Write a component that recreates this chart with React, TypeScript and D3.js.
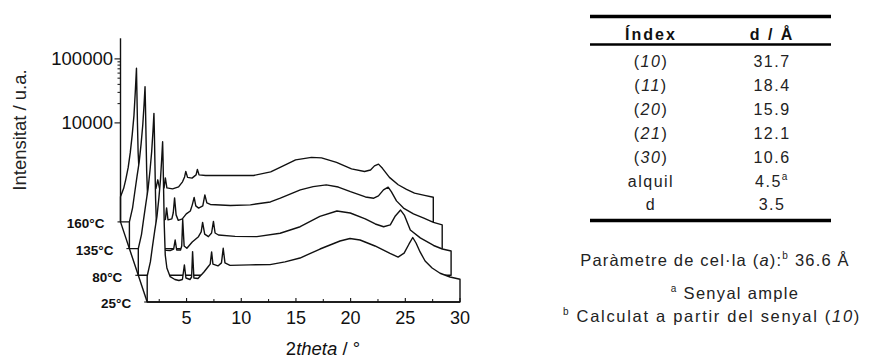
import React from 'react';
import * as d3 from 'd3';

// ---------- data ----------
const temperatureLabels = ['25°C', '80°C', '135°C', '160°C'];

// [2theta (deg), intensity (a.u.)]
const series25C: [number, number][] = [
  [1.4, 723], [1.69, 1200], [1.88, 2080], [2.1, 3790], [2.29, 6110], [2.47, 12000], [2.61, 22900],
  [2.72, 47000], [2.81, 90800], [2.85, 47000], [2.9, 16000], [2.96, 4530], [3.05, 1540], [3.2, 964],
  [3.5, 705], [3.93, 638], [4.3, 615], [4.62, 638], [4.8, 1080], [4.94, 673], [5.31, 638], [5.46, 698],
  [5.55, 1740], [5.67, 673], [6.04, 661], [6.59, 836], [6.95, 1000], [7.16, 1110], [7.29, 1720],
  [7.41, 1110], [7.87, 1040], [8.19, 1160], [8.35, 1960], [8.51, 1160], [8.97, 1060], [10.8, 1080],
  [12.63, 1090], [14.0, 1200], [15.37, 1380], [17.2, 1910], [19.03, 2550], [19.94, 2790], [20.86, 2640],
  [22.23, 2130], [23.6, 1630], [24.34, 1430], [24.89, 1650], [25.34, 2290], [25.68, 2890], [25.98, 2370],
  [26.35, 1720], [26.81, 1240], [27.45, 964], [28.18, 798], [29.09, 698], [30.0, 643],
];

const series80C: [number, number][] = [
  [1.4, 740], [1.69, 1230], [1.88, 2100], [2.1, 3850], [2.29, 6300], [2.47, 12300], [2.62, 24000],
  [2.74, 50000], [2.83, 96300], [2.87, 48000], [2.92, 16000], [2.98, 4500], [3.07, 1550], [3.22, 980],
  [3.5, 720], [3.94, 700], [4.31, 692], [4.63, 731], [4.77, 1010], [4.91, 705], [5.26, 705], [5.37, 815],
  [5.46, 2110], [5.59, 815], [5.84, 750], [6.33, 940], [6.9, 1140], [7.15, 1350], [7.28, 1900],
  [7.47, 1250], [7.81, 1140], [8.1, 1300], [8.27, 1970], [8.42, 1300], [8.73, 1210], [10.25, 1150],
  [12.24, 1140], [14.37, 1290], [16.2, 1630], [18.0, 2360], [19.56, 2870], [20.78, 2670], [22.15, 2160],
  [23.07, 1800], [23.83, 1630], [24.44, 1740], [24.9, 2400], [25.38, 2970], [25.72, 2480], [26.27, 1450],
  [27.18, 1090], [28.4, 830], [29.2, 731], [30.0, 680],
];

const series135C: [number, number][] = [
  [1.4, 740], [1.69, 1230], [1.88, 2100], [2.1, 3850], [2.29, 6300], [2.47, 12300], [2.62, 24000],
  [2.74, 50000], [2.83, 96300], [2.87, 48000], [2.92, 16000], [2.98, 4600], [3.07, 1700], [3.22, 1050],
  [3.5, 830], [3.91, 798], [4.41, 769], [4.69, 811], [4.8, 1230], [4.93, 798], [5.28, 826], [5.41, 1030],
  [5.53, 1760], [5.67, 955], [5.87, 783], [6.24, 826], [6.6, 988], [6.97, 1100], [7.15, 1370], [7.32, 1790],
  [7.47, 1320], [7.73, 1220], [8.11, 1320], [8.3, 1960], [8.48, 1470], [8.8, 1390], [10.63, 1340],
  [12.46, 1370], [14.29, 1520], [15.2, 1740], [17.03, 2350], [18.2, 2640], [19.4, 2810], [20.5, 2600],
  [21.61, 2200], [22.98, 1820], [23.74, 1740], [24.17, 1890], [24.63, 2350], [25.06, 2590], [25.36, 2180],
  [25.82, 1580], [26.46, 1220], [27.37, 988], [28.32, 848], [29.2, 729], [30.0, 666],
];

const series160C: [number, number][] = [
  [1.4, 700], [1.69, 950], [1.88, 1300], [2.1, 2000], [2.29, 3400], [2.47, 6500], [2.63, 13000],
  [2.75, 30000], [2.86, 71600], [2.9, 30000], [2.95, 10000], [3.01, 3500], [3.1, 1700], [3.25, 1150],
  [3.55, 1000], [4.14, 964], [4.64, 948], [4.81, 1290], [4.97, 948], [5.38, 964], [5.5, 1380], [5.64, 964],
  [6.16, 931], [6.71, 1000], [7.07, 1200], [7.26, 1430], [7.37, 1750], [7.53, 1410], [7.94, 1370],
  [8.31, 1540], [8.43, 1880], [8.58, 1540], [9.18, 1510], [11.46, 1510], [13.57, 1510], [15.13, 1720],
  [16.04, 2030], [17.41, 2640], [18.86, 2890], [19.78, 2840], [21.15, 2410], [22.52, 1910], [23.71, 1740],
  [24.26, 1840], [24.62, 2130], [24.99, 2270], [25.35, 1950], [25.99, 1410], [26.79, 1080], [27.55, 914],
  [28.28, 798], [29.2, 736], [30.0, 690],
];

const xMajorTicks = [5, 10, 15, 20, 25, 30];
const xMinorTicks = [2.5, 7.5, 12.5, 17.5, 22.5, 27.5];
const yMajorTicks = [10000, 100000];
const yMinorTicks = [20000, 30000, 40000, 50000, 60000, 70000, 80000, 90000];
const yAxisMax = 210000;
const thetaStart = 1.4;
const thetaEnd = 30;

const tableIndex = ['(10)', '(11)', '(20)', '(21)', '(30)', 'alquil', 'd'];
const tableD = ['31.7', '18.4', '15.9', '12.1', '10.6', '4.5', '3.5'];
const tableDNote = ['', '', '', '', '', 'a', ''];

const FONT = "'Liberation Sans', Arial, Helvetica, sans-serif";

function renderIndex(s: string) {
  const m = s.match(/^\((\d+)\)$/);
  if (m) {
    return (
      <>
        (<tspan fontStyle="italic">{m[1]}</tspan>)
      </>
    );
  }
  return s;
}

export default function App() {
  const x = d3.scaleLinear().domain([thetaStart, thetaEnd]).range([147.2, 460]);
  const y = d3.scaleLog().domain([1e4, 1e5]).range([203, 139]);
  const baseY = 302;
  const dx = -8.9;
  const dy = -26.7;
  const allSeries = [series25C, series80C, series135C, series160C];
  const line = d3.line();

  const paths = allSeries.map((data, k) => {
    const ox = k * dx;
    const oy = k * dy;
    const pts = data.map(([t, v]) => [x(t) + ox, y(v) + oy] as [number, number]);
    const b = baseY + oy;
    const poly: [number, number][] = [[pts[0][0], b], ...pts, [pts[pts.length - 1][0], b]];
    return line(poly) + 'Z';
  });

  const backDx = 3 * dx;
  const backDy = 3 * dy;
  const yAxisX = x(thetaStart) + backDx;
  const yb = (v: number) => y(v) + backDy;
  const x0 = x(thetaStart);

  const stroke = '#111';
  const sw = 1.4;

  // table geometry
  const tL = 590;
  const tR = 831;
  const col1 = 651;
  const col2 = 772;
  const rowBase0 = 67;
  const rowStep = 23.9;

  return (
    <svg
      width={869}
      height={359}
      viewBox="0 0 869 359"
      style={{ position: 'absolute', left: 0, top: 0, background: '#fff' }}
      fontFamily={FONT}
    >
      <rect x={0} y={0} width={869} height={359} fill="#fff" />

      {/* series, back to front */}
      {paths
        .map((d, k) => ({ d, k }))
        .reverse()
        .map(({ d, k }) => (
          <path key={k} d={d} fill="#fff" stroke={stroke} strokeWidth={sw} strokeLinejoin="round" />
        ))}

      {/* x axis */}
      <line x1={x0} x2={x(thetaEnd)} y1={baseY} y2={baseY} stroke={stroke} strokeWidth={sw} />
      {xMajorTicks.map((t) => (
        <g key={'xm' + t}>
          <line x1={x(t)} x2={x(t)} y1={baseY} y2={baseY - 4} stroke={stroke} strokeWidth={1.1} />
          <text x={x(t)} y={323.5} fontSize={18} textAnchor="middle" fill="#111">
            {t}
          </text>
        </g>
      ))}
      {xMinorTicks.map((t) => (
        <line key={'xn' + t} x1={x(t)} x2={x(t)} y1={baseY} y2={baseY - 3} stroke={stroke} strokeWidth={1} />
      ))}
      <text x={323} y={355} fontSize={18.5} textAnchor="middle" fill="#111">
        2<tspan fontStyle="italic">theta</tspan> / °
      </text>

      {/* depth axis */}
      <line x1={x0} y1={baseY} x2={yAxisX} y2={baseY + backDy} stroke={stroke} strokeWidth={sw} />
      {temperatureLabels.map((lab, k) => {
        const ax = x0 + k * dx;
        const ay = baseY + k * dy;
        return (
          <g key={lab}>
            <line x1={ax - 3} x2={ax} y1={ay} y2={ay} stroke={stroke} strokeWidth={1.1} />
            <text x={ax - 16} y={ay + 6.3} fontSize={13.5} fontWeight="bold" textAnchor="end" fill="#111">
              {lab}
            </text>
          </g>
        );
      })}

      {/* y axis (back frame) */}
      <line x1={yAxisX} x2={yAxisX} y1={yb(yAxisMax)} y2={baseY + backDy} stroke={stroke} strokeWidth={sw} />
      {yMajorTicks.map((v) => (
        <g key={'ym' + v}>
          <line x1={yAxisX - 6} x2={yAxisX} y1={yb(v)} y2={yb(v)} stroke={stroke} strokeWidth={1.1} />
          <text x={yAxisX - 7.5} y={yb(v) + 6.5} fontSize={18.5} textAnchor="end" fill="#111">
            {v}
          </text>
        </g>
      ))}
      {yMinorTicks.map((v) => (
        <line key={'yn' + v} x1={yAxisX - 3} x2={yAxisX} y1={yb(v)} y2={yb(v)} stroke={stroke} strokeWidth={1} />
      ))}
      <text transform="translate(26,130) rotate(-90)" fontSize={18.5} textAnchor="middle" fill="#222">
        Intensitat / u.a.
      </text>

      {/* table */}
      <line x1={tL} x2={tR} y1={16.5} y2={16.5} stroke="#000" strokeWidth={3.5} />
      <text x={col1} y={39.5} fontSize={16} fontWeight="bold" textAnchor="middle" fill="#111" style={{ letterSpacing: '2px' }}>
        Índex
      </text>
      <text x={col2} y={39.5} fontSize={16} fontWeight="bold" textAnchor="middle" fill="#111" style={{ letterSpacing: '2px' }}>
        d / Å
      </text>
      <line x1={tL} x2={tR} y1={44.5} y2={44.5} stroke="#000" strokeWidth={2.5} />
      {tableIndex.map((s, i) => (
        <g key={'row' + i}>
          <text x={col1} y={rowBase0 + i * rowStep} fontSize={16} textAnchor="middle" fill="#222" style={{ letterSpacing: '1.5px' }}>
            {renderIndex(s)}
          </text>
          <text x={col2} y={rowBase0 + i * rowStep} fontSize={16} textAnchor="middle" fill="#222" style={{ letterSpacing: '1.5px' }}>
            {tableD[i]}
            {tableDNote[i] ? (
              <tspan fontSize={10} dy={-7}>
                {tableDNote[i]}
              </tspan>
            ) : null}
          </text>
        </g>
      ))}
      <line x1={tL} x2={tR} y1={220.5} y2={220.5} stroke="#000" strokeWidth={3.5} />

      {/* footnotes */}
      <text x={715} y={265.5} fontSize={16.5} textAnchor="middle" fill="#222" style={{ letterSpacing: '1.2px' }}>
        Paràmetre de cel·la (<tspan fontStyle="italic">a</tspan>):
        <tspan fontSize={10} dy={-7}>b</tspan>
        <tspan dy={7}> 36.6 Å</tspan>
      </text>
      <text x={735} y={298.5} fontSize={16.5} textAnchor="middle" fill="#222" style={{ letterSpacing: '1.3px' }}>
        <tspan fontSize={10} dy={-7}>a</tspan>
        <tspan dy={7}> Senyal ample</tspan>
      </text>
      <text x={712} y={322} fontSize={16.5} textAnchor="middle" fill="#222" style={{ letterSpacing: '1.7px' }}>
        <tspan fontSize={10} dy={-7}>b</tspan>
        <tspan dy={7}> Calculat a partir del senyal (</tspan>
        <tspan fontStyle="italic">10</tspan>)
      </text>
    </svg>
  );
}
